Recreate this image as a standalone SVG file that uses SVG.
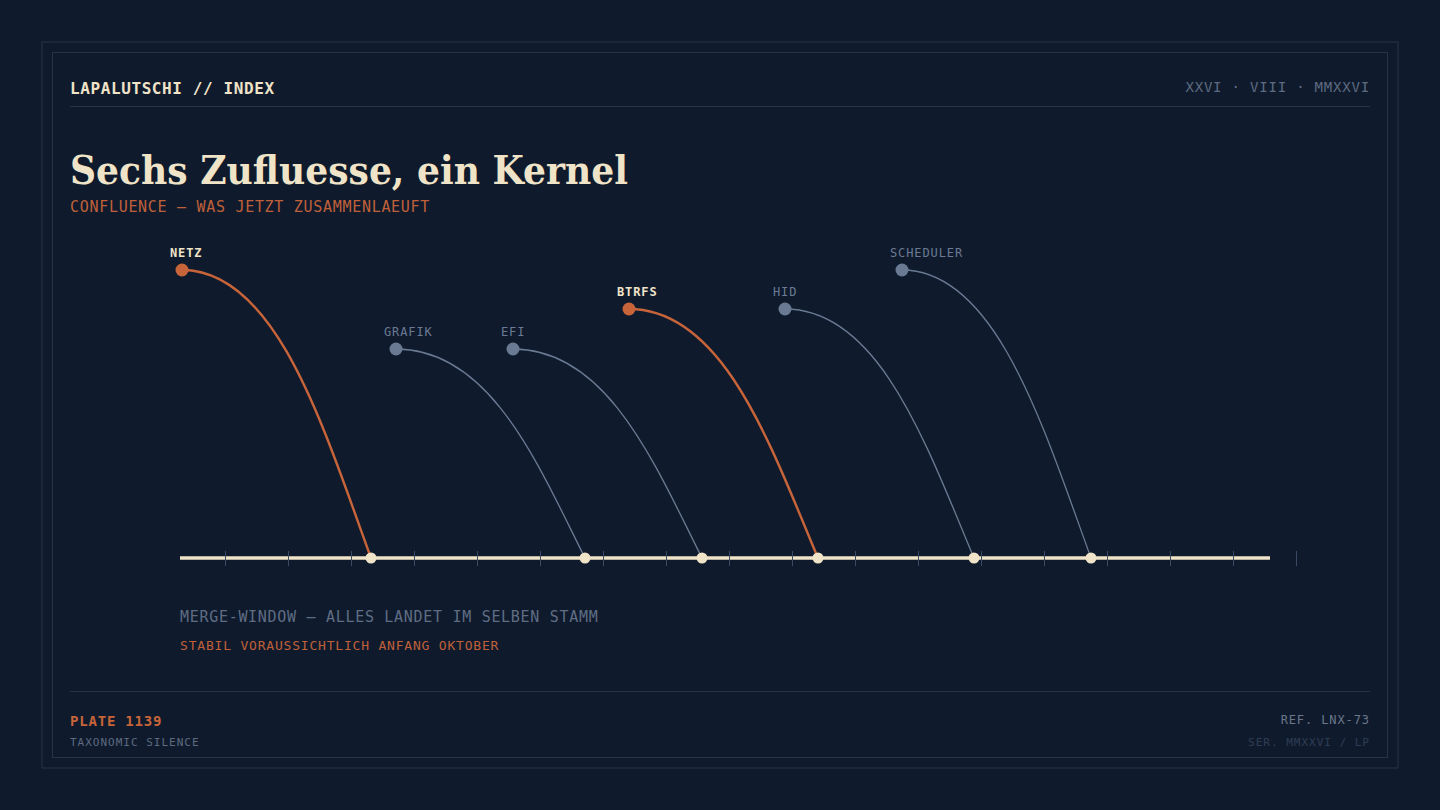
<svg xmlns="http://www.w3.org/2000/svg" width="1440" height="810" viewBox="0 0 1440 810">
<defs>
<style>
.mono{font-family:"DejaVu Sans Mono","Liberation Mono",monospace}
.serif{font-family:"DejaVu Serif","Liberation Serif",serif}
.frame{fill:none;stroke:#26344a;stroke-width:1}
.rule{stroke:#26344a;stroke-width:1}
.tick{stroke:#3a4a63;stroke-width:1}
.hot{fill:none;stroke:#c8643a;stroke-width:2.4;stroke-linecap:round}
.cold{fill:none;stroke:#6b7a93;stroke-width:1.3;stroke-linecap:round}
.srcHot{fill:#c8643a}
.srcCold{fill:#6b7a93}
.merge{fill:#efe3c8}
.lblHot{fill:#efe3c8;font-weight:bold;font-size:12px;letter-spacing:0.9px}
.lblCold{fill:#6b7a93;font-size:12px;letter-spacing:0.9px}
</style>
</defs>
<rect x="0" y="0" width="1440" height="810" fill="#0f1b2d"/>
<rect class="frame" x="42" y="42" width="1356" height="726"/>
<rect class="frame" x="52.5" y="52.5" width="1335" height="705"/>

<g id="header">
<text class="mono" x="70" y="94" font-size="16" font-weight="bold" letter-spacing="0.6" fill="#efe3c8">LAPALUTSCHI // INDEX</text>
<text class="mono" x="1370" y="92" font-size="14" letter-spacing="0.8" fill="#5d6a80" text-anchor="end">XXVI · VIII · MMXXVI</text>
<line class="rule" x1="70" y1="106.5" x2="1370" y2="106.5"/>
</g>

<g id="title">
<text class="serif" x="70" y="184" font-size="40" font-weight="bold" fill="#efe3c8" textLength="558" lengthAdjust="spacingAndGlyphs">Sechs Zufluesse, ein Kernel</text>
<text class="mono" x="70" y="212" font-size="15" letter-spacing="0.7" fill="#c0603a">CONFLUENCE — WAS JETZT ZUSAMMENLAEUFT</text>
</g>

<g id="trunk">
<line x1="180" y1="558" x2="1270" y2="558" stroke="#efe3c8" stroke-width="3.4"/>
<g class="tick">
<line x1="225.5" y1="551" x2="225.5" y2="566"/>
<line x1="288.5" y1="551" x2="288.5" y2="566"/>
<line x1="351.5" y1="551" x2="351.5" y2="566"/>
<line x1="414.5" y1="551" x2="414.5" y2="566"/>
<line x1="477.5" y1="551" x2="477.5" y2="566"/>
<line x1="540.5" y1="551" x2="540.5" y2="566"/>
<line x1="603.5" y1="551" x2="603.5" y2="566"/>
<line x1="666.5" y1="551" x2="666.5" y2="566"/>
<line x1="729.5" y1="551" x2="729.5" y2="566"/>
<line x1="792.5" y1="551" x2="792.5" y2="566"/>
<line x1="855.5" y1="551" x2="855.5" y2="566"/>
<line x1="918.5" y1="551" x2="918.5" y2="566"/>
<line x1="981.5" y1="551" x2="981.5" y2="566"/>
<line x1="1044.5" y1="551" x2="1044.5" y2="566"/>
<line x1="1107.5" y1="551" x2="1107.5" y2="566"/>
<line x1="1170.5" y1="551" x2="1170.5" y2="566"/>
<line x1="1233.5" y1="551" x2="1233.5" y2="566"/>
<line x1="1296.5" y1="551" x2="1296.5" y2="566"/>
</g>
</g>

<g id="connectors">
<path class="hot" d="M182 270 C276.5 270 323.75 428.4 371 558"/>
<path class="cold" d="M396 349 C490.5 349 537.75 463.95 585 558"/>
<path class="cold" d="M513 349 C607.5 349 654.75 463.95 702 558"/>
<path class="hot" d="M629 309 C723.5 309 770.75 445.95 818 558"/>
<path class="cold" d="M785 309 C879.5 309 926.75 445.95 974 558"/>
<path class="cold" d="M902 270 C996.5 270 1043.75 428.4 1091 558"/>
</g>

<g id="node-netz">
<circle class="srcHot" cx="182" cy="270" r="6.5"/>
<text class="mono lblHot" x="170" y="257">NETZ</text>
<circle class="merge" cx="371" cy="558" r="5.5"/>
</g>
<g id="node-grafik">
<circle class="srcCold" cx="396" cy="349" r="6.5"/>
<text class="mono lblCold" x="384" y="336">GRAFIK</text>
<circle class="merge" cx="585" cy="558" r="5.5"/>
</g>
<g id="node-efi">
<circle class="srcCold" cx="513" cy="349" r="6.5"/>
<text class="mono lblCold" x="501" y="336">EFI</text>
<circle class="merge" cx="702" cy="558" r="5.5"/>
</g>
<g id="node-btrfs">
<circle class="srcHot" cx="629" cy="309" r="6.5"/>
<text class="mono lblHot" x="617" y="296">BTRFS</text>
<circle class="merge" cx="818" cy="558" r="5.5"/>
</g>
<g id="node-hid">
<circle class="srcCold" cx="785" cy="309" r="6.5"/>
<text class="mono lblCold" x="773" y="296">HID</text>
<circle class="merge" cx="974" cy="558" r="5.5"/>
</g>
<g id="node-scheduler">
<circle class="srcCold" cx="902" cy="270" r="6.5"/>
<text class="mono lblCold" x="890" y="257">SCHEDULER</text>
<circle class="merge" cx="1091" cy="558" r="5.5"/>
</g>

<g id="caption">
<text class="mono" x="180" y="622" font-size="15" letter-spacing="0.7" fill="#5f6d84">MERGE-WINDOW — ALLES LANDET IM SELBEN STAMM</text>
<text class="mono" x="180" y="650" font-size="13" letter-spacing="0.8" fill="#c0603a">STABIL VORAUSSICHTLICH ANFANG OKTOBER</text>
</g>

<g id="footer">
<line class="rule" x1="70" y1="691.5" x2="1370" y2="691.5"/>
<text class="mono" x="70" y="726" font-size="14" font-weight="bold" letter-spacing="0.8" fill="#c8643a">PLATE 1139</text>
<text class="mono" x="70" y="746" font-size="11" letter-spacing="1" fill="#5d6a80">TAXONOMIC SILENCE</text>
<text class="mono" x="1370" y="724" font-size="12" letter-spacing="0.9" fill="#6b778a" text-anchor="end">REF. LNX-73</text>
<text class="mono" x="1370" y="746" font-size="11" letter-spacing="1" fill="#2f3d54" text-anchor="end">SER. MMXXVI / LP</text>
</g>
</svg>
